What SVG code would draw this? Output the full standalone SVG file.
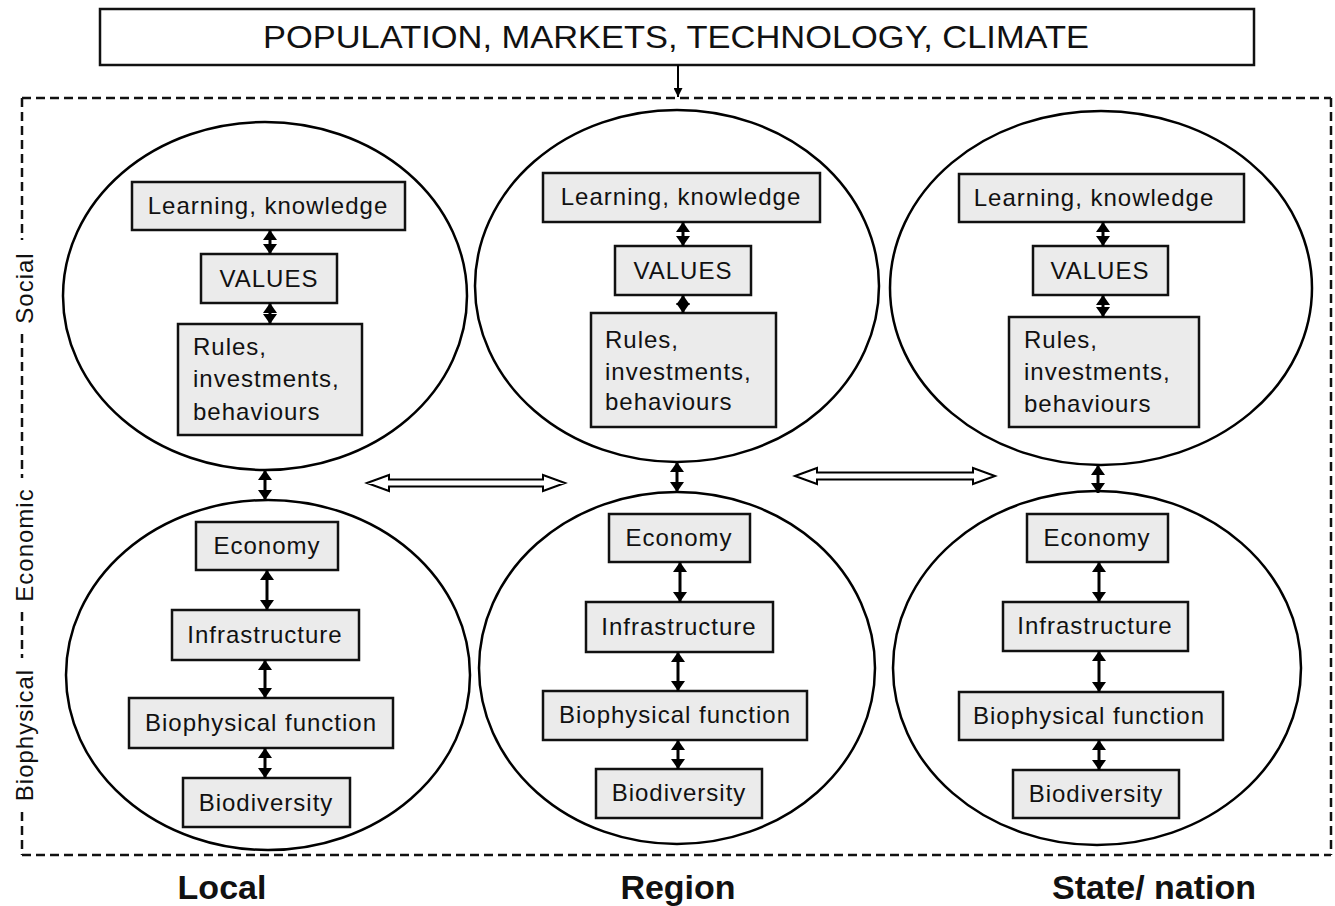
<svg xmlns="http://www.w3.org/2000/svg" width="1335" height="906" viewBox="0 0 1335 906">
<style>
  .ell { fill: none; stroke: #000; stroke-width: 2.5; }
  .box { fill: #ebebeb; stroke: #111; stroke-width: 2.5; }
  .t { font-family: "Liberation Sans", Arial, sans-serif; font-size: 24px; letter-spacing: 1px; fill: #111; }
  .c { text-anchor: middle; }
  .side { font-family: "Liberation Sans", Arial, sans-serif; font-size: 24px; letter-spacing: 1px; fill: #111; text-anchor: middle; }
  .scale { font-family: "Liberation Sans", Arial, sans-serif; font-size: 34px; font-weight: bold; fill: #111; text-anchor: middle; }
  .con { stroke: #000; stroke-width: 3; fill: none; marker-start: url(#ah); marker-end: url(#ah); }
  .dash { stroke: #111; stroke-width: 2.5; fill: none; stroke-dasharray: 9 5; }
  .harrow { fill: #fff; stroke: #000; stroke-width: 2; }
</style>
<defs>
  <marker id="ah" viewBox="0 0 10 14" markerUnits="userSpaceOnUse" markerWidth="10" markerHeight="14" refX="10" refY="7" orient="auto-start-reverse">
    <path d="M0,0 L10,7 L0,14 z" fill="#000"/>
  </marker>
  <marker id="ahs" viewBox="0 0 10 10" markerUnits="userSpaceOnUse" markerWidth="9" markerHeight="9" refX="10" refY="5" orient="auto">
    <path d="M0,0 L10,5 L0,10 z" fill="#000"/>
  </marker>
</defs>
<rect width="1335" height="906" fill="#fff"/>

<!-- frame -->
<g id="frame">
  <line class="dash" x1="22" y1="98" x2="1331" y2="98"/>
  <line class="dash" x1="22" y1="855" x2="1331" y2="855" stroke-dasharray="9 6"/>
  <line class="dash" x1="1331" y1="98" x2="1331" y2="855" stroke-dasharray="3 3"/>
  <line class="dash" x1="22" y1="98" x2="22" y2="240"/>
  <line class="dash" x1="22" y1="334" x2="22" y2="478"/>
  <line class="dash" x1="22" y1="612" x2="22" y2="658"/>
  <line class="dash" x1="22" y1="812" x2="22" y2="855"/>
  <text class="side" transform="translate(33,288) rotate(-90)">Social</text>
  <text class="side" transform="translate(33,545) rotate(-90)">Economic</text>
  <text class="side" transform="translate(33,735) rotate(-90)">Biophysical</text>
</g>

<!-- top driver -->
<g id="drivers">
  <rect x="100" y="9" width="1154" height="56" fill="#fff" stroke="#111" stroke-width="2.5"/>
  <text x="676" y="48" class="t c" style="font-size:32px;letter-spacing:0" textLength="826" lengthAdjust="spacingAndGlyphs">POPULATION, MARKETS, TECHNOLOGY, CLIMATE</text>
</g>

<!-- Local -->
<g id="local-social">
  <ellipse class="ell" cx="265" cy="296" rx="202" ry="174"/>
  <rect class="box" x="132" y="182" width="273" height="48"/>
  <text class="t c" x="268" y="214">Learning, knowledge</text>
  <rect class="box" x="201" y="254" width="136" height="49"/>
  <text class="t c" x="269" y="287">VALUES</text>
  <rect class="box" x="178" y="324" width="184" height="111"/>
  <text class="t" x="193" y="355">Rules,</text>
  <text class="t" x="193" y="387">investments,</text>
  <text class="t" x="193" y="420">behaviours</text>
</g>
<g id="local-econ">
  <ellipse class="ell" cx="268" cy="675" rx="202" ry="175"/>
  <rect class="box" x="196" y="522" width="142" height="48"/>
  <text class="t c" x="267" y="554">Economy</text>
  <rect class="box" x="172" y="610" width="187" height="50"/>
  <text class="t c" x="265" y="643">Infrastructure</text>
  <rect class="box" x="129" y="698" width="264" height="50"/>
  <text class="t c" x="261" y="731">Biophysical function</text>
  <rect class="box" x="183" y="778" width="167" height="49"/>
  <text class="t c" x="266" y="811">Biodiversity</text>
</g>

<!-- Region -->
<g id="region-social">
  <ellipse class="ell" cx="677" cy="286" rx="202" ry="176"/>
  <rect class="box" x="543" y="173" width="277" height="49"/>
  <text class="t c" x="681" y="205">Learning, knowledge</text>
  <rect class="box" x="615" y="246" width="136" height="49"/>
  <text class="t c" x="683" y="279">VALUES</text>
  <rect class="box" x="591" y="313" width="185" height="114"/>
  <text class="t" x="605" y="348">Rules,</text>
  <text class="t" x="605" y="380">investments,</text>
  <text class="t" x="605" y="410">behaviours</text>
</g>
<g id="region-econ">
  <ellipse class="ell" cx="677" cy="668" rx="198" ry="176"/>
  <rect class="box" x="609" y="514" width="141" height="48"/>
  <text class="t c" x="679" y="546">Economy</text>
  <rect class="box" x="586" y="602" width="187" height="50"/>
  <text class="t c" x="679" y="635">Infrastructure</text>
  <rect class="box" x="543" y="691" width="264" height="49"/>
  <text class="t c" x="675" y="723">Biophysical function</text>
  <rect class="box" x="596" y="769" width="166" height="49"/>
  <text class="t c" x="679" y="801">Biodiversity</text>
</g>

<!-- State -->
<g id="state-social">
  <ellipse class="ell" cx="1101" cy="288" rx="211" ry="177"/>
  <rect class="box" x="959" y="174" width="285" height="48"/>
  <text class="t c" x="1094" y="206">Learning, knowledge</text>
  <rect class="box" x="1033" y="246" width="135" height="49"/>
  <text class="t c" x="1100" y="279">VALUES</text>
  <rect class="box" x="1009" y="317" width="190" height="110"/>
  <text class="t" x="1024" y="348">Rules,</text>
  <text class="t" x="1024" y="380">investments,</text>
  <text class="t" x="1024" y="412">behaviours</text>
</g>
<g id="state-econ">
  <ellipse class="ell" cx="1097" cy="668" rx="204" ry="177"/>
  <rect class="box" x="1027" y="514" width="141" height="48"/>
  <text class="t c" x="1097" y="546">Economy</text>
  <rect class="box" x="1003" y="602" width="185" height="49"/>
  <text class="t c" x="1095" y="634">Infrastructure</text>
  <rect class="box" x="959" y="692" width="264" height="48"/>
  <text class="t c" x="1089" y="724">Biophysical function</text>
  <rect class="box" x="1013" y="770" width="166" height="48"/>
  <text class="t c" x="1096" y="802">Biodiversity</text>
</g>

<!-- connectors -->
<g id="connectors">
  <line x1="678" y1="65" x2="678" y2="97" stroke="#000" stroke-width="2" marker-end="url(#ahs)"/>

  <line class="con" x1="270" y1="230" x2="270" y2="254"/>
  <line class="con" x1="270" y1="303" x2="270" y2="324"/>
  <line class="con" x1="265" y1="470" x2="265" y2="500"/>
  <line class="con" x1="267" y1="570" x2="267" y2="610"/>
  <line class="con" x1="265" y1="660" x2="265" y2="698"/>
  <line class="con" x1="265" y1="748" x2="265" y2="778"/>

  <line class="con" x1="683" y1="222" x2="683" y2="246"/>
  <line class="con" x1="683" y1="295" x2="683" y2="313"/>
  <line class="con" x1="677" y1="462" x2="677" y2="492"/>
  <line class="con" x1="680" y1="562" x2="680" y2="602"/>
  <line class="con" x1="678" y1="652" x2="678" y2="691"/>
  <line class="con" x1="678" y1="740" x2="678" y2="769"/>

  <line class="con" x1="1103" y1="222" x2="1103" y2="246"/>
  <line class="con" x1="1103" y1="295" x2="1103" y2="317"/>
  <line class="con" x1="1098" y1="465" x2="1098" y2="493"/>
  <line class="con" x1="1099" y1="562" x2="1099" y2="602"/>
  <line class="con" x1="1099" y1="651" x2="1099" y2="692"/>
  <line class="con" x1="1099" y1="740" x2="1099" y2="770"/>

  <polygon class="harrow" points="367,483 389,475 389,479.5 543,479.5 543,475 565,483 543,491 543,486.5 389,486.5 389,491"/>
  <polygon class="harrow" points="795,476 817,468 817,472.5 973,472.5 973,468 995,476 973,484 973,479.5 817,479.5 817,484"/>
</g>

<!-- scale labels -->
<g id="scales">
  <text class="scale" x="222" y="899">Local</text>
  <text class="scale" x="678" y="899">Region</text>
  <text class="scale" x="1154" y="899">State/ nation</text>
</g>
</svg>
